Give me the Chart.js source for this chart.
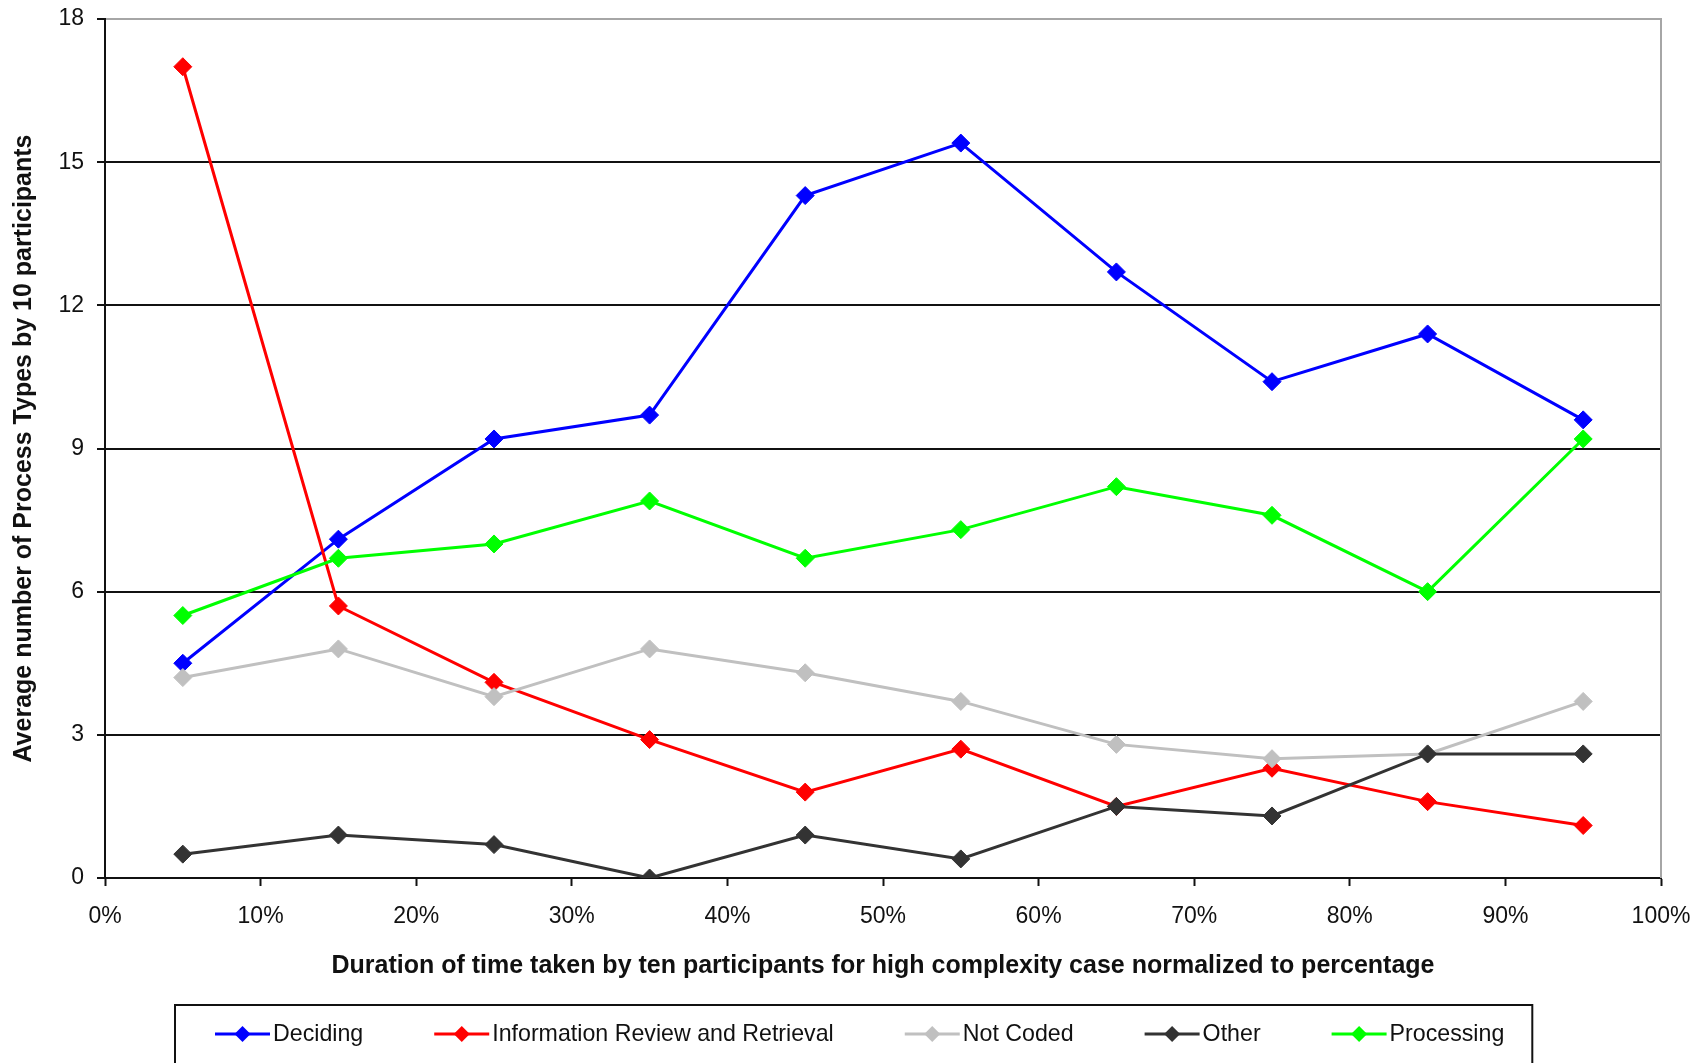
<!DOCTYPE html>
<html>
<head>
<meta charset="utf-8">
<title>Process types over normalized duration</title>
<script src="https://cdn.jsdelivr.net/npm/chart.js@4/dist/chart.umd.min.js"></script>
<style>
  html, body { margin: 0; padding: 0; background: #ffffff; }
  #wrap { width: 1696px; height: 1063px; }
</style>
</head>
<body>
<div id="wrap"><canvas id="chart" width="1696" height="1063"></canvas></div>
<script>
// Time position of each sample (midpoint of each 10% slice)
const timePercent = [5, 15, 25, 35, 45, 55, 65, 75, 85, 95];

// Average count of each process type across 10 participants
const deciding   = [4.5, 7.1, 9.2, 9.7, 14.3, 15.4, 12.7, 10.4, 11.4, 9.6];
const infoReview = [17.0, 5.7, 4.1, 2.9, 1.8, 2.7, 1.5, 2.3, 1.6, 1.1];
const notCoded   = [4.2, 4.8, 3.8, 4.8, 4.3, 3.7, 2.8, 2.5, 2.6, 3.7];
const other      = [0.5, 0.9, 0.7, 0.0, 0.9, 0.4, 1.5, 1.3, 2.6, 2.6];
const processing = [5.5, 6.7, 7.0, 7.9, 6.7, 7.3, 8.2, 7.6, 6.0, 9.2];

const seriesNames = ['Deciding', 'Information Review and Retrieval', 'Not Coded', 'Other', 'Processing'];
const seriesColors = ['#0000ff', '#ff0000', '#c0c0c0', '#333333', '#00ff00'];
const seriesValues = [deciding, infoReview, notCoded, other, processing];

const xTitle = 'Duration of time taken by ten participants for high complexity case normalized to percentage';
const yTitle = 'Average number of Process Types by 10 participants';

const FONT = '"Liberation Sans", Arial, Helvetica, sans-serif';

const datasets = seriesNames.map((name, i) => ({
  label: name,
  data: timePercent.map((x, j) => ({ x: x, y: seriesValues[i][j] })),
  borderColor: seriesColors[i],
  backgroundColor: seriesColors[i],
  pointBackgroundColor: seriesColors[i],
  pointBorderColor: seriesColors[i],
  borderWidth: 3,
  pointStyle: 'rectRot',
  pointRadius: 9,
  pointBorderWidth: 1,
  tension: 0,
  order: seriesNames.length - i
}));

// Gray frame on the right edge of the plot
const plotFrame = {
  id: 'plotFrame',
  afterDraw(chart) {
    const { ctx, chartArea } = chart;
    ctx.save();
    ctx.strokeStyle = '#a6a6a6';
    ctx.lineWidth = 2;
    ctx.beginPath();
    ctx.moveTo(chartArea.right, chartArea.top - 1);
    ctx.lineTo(chartArea.right, chartArea.bottom);
    ctx.stroke();
    ctx.restore();
  }
};

// Boxed legend row under the axis title
const boxedLegend = {
  id: 'boxedLegend',
  afterDraw(chart) {
    const { ctx } = chart;
    const boxLeft = 175, boxTop = 1005;
    const padL = 40, padR = 28;
    const lineLen = 55, textGap = 3, itemGap = 71;
    const textY = 1034;
    ctx.save();
    ctx.font = '23.2px ' + FONT;
    ctx.textBaseline = 'middle';
    ctx.textAlign = 'left';
    let x = boxLeft + padL;
    const items = chart.data.datasets;
    items.forEach((ds, i) => {
      ctx.strokeStyle = ds.borderColor;
      ctx.lineWidth = 3;
      ctx.beginPath();
      ctx.moveTo(x, textY);
      ctx.lineTo(x + lineLen, textY);
      ctx.stroke();
      const cx = x + lineLen / 2, r = 8;
      ctx.fillStyle = ds.borderColor;
      ctx.beginPath();
      ctx.moveTo(cx - r, textY);
      ctx.lineTo(cx, textY - r);
      ctx.lineTo(cx + r, textY);
      ctx.lineTo(cx, textY + r);
      ctx.closePath();
      ctx.fill();
      x += lineLen + textGap;
      ctx.fillStyle = '#111111';
      ctx.fillText(ds.label, x, textY + 1);
      x += ctx.measureText(ds.label).width;
      if (i < items.length - 1) x += itemGap;
    });
    const boxRight = x + padR;
    ctx.strokeStyle = '#111111';
    ctx.lineWidth = 2;
    ctx.strokeRect(boxLeft, boxTop, boxRight - boxLeft, 120);
    ctx.restore();
  }
};

new Chart(document.getElementById('chart'), {
  type: 'line',
  data: { datasets: datasets },
  options: {
    responsive: false,
    maintainAspectRatio: false,
    animation: false,
    layout: { padding: { left: 0, top: 19, right: 35, bottom: 78 } },
    plugins: {
      legend: { display: false },
      tooltip: { enabled: false }
    },
    scales: {
      x: {
        type: 'linear',
        min: 0,
        max: 100,
        offset: false,
        afterFit(scale) {
          scale.height = 107;
          scale.paddingLeft = 0;
          scale.paddingRight = 0;
        },
        ticks: {
          stepSize: 10,
          padding: 17,
          color: '#111111',
          font: { family: FONT, size: 23 },
          callback: v => v + '%',
          maxRotation: 0
        },
        grid: {
          drawOnChartArea: false,
          drawTicks: true,
          tickLength: 8,
          tickColor: '#111111',
          tickWidth: 2
        },
        border: { display: true, color: '#111111', width: 2 },
        title: {
          display: true,
          text: xTitle,
          color: '#111111',
          font: { family: FONT, size: 25, weight: 'bold' },
          padding: { top: 4, bottom: 4 }
        }
      },
      y: {
        min: 0,
        max: 18,
        afterFit(scale) {
          scale.width = 105;
          scale.paddingTop = 0;
          scale.paddingBottom = 0;
        },
        ticks: {
          stepSize: 3,
          padding: 13,
          color: '#111111',
          font: { family: FONT, size: 23 }
        },
        grid: {
          color: ctx => (ctx.tick && ctx.tick.value === 18) ? '#a6a6a6' : '#111111',
          lineWidth: 2,
          drawTicks: true,
          tickLength: 8,
          tickColor: '#111111',
          tickWidth: 2
        },
        border: { display: true, color: '#111111', width: 2 },
        title: {
          display: true,
          text: yTitle,
          color: '#111111',
          font: { family: FONT, size: 25, weight: 'bold' },
          padding: { top: 9, bottom: 4 }
        }
      }
    }
  },
  plugins: [plotFrame, boxedLegend]
});
</script>
</body>
</html>
